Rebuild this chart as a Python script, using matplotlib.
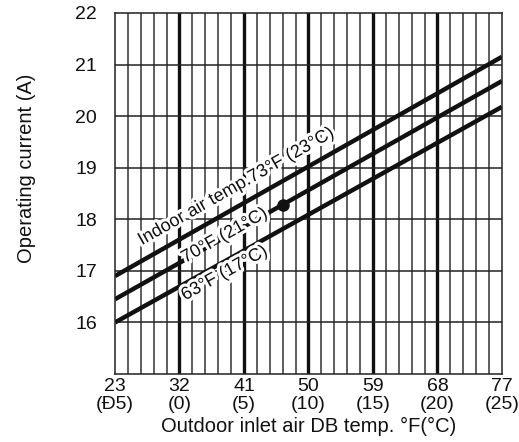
import numpy as np
import matplotlib
matplotlib.use("Agg")
import matplotlib.pyplot as plt
import matplotlib.patheffects as pe

plt.rcParams['font.family'] = ['Liberation Sans', 'DejaVu Sans']

# Data
outdoor_temp_f = [23, 77]
current_73f = [16.9, 21.15]
current_70f = [16.45, 20.68]
current_63f = [16.0, 20.18]
rated_point_x = [46.4]
rated_point_y = [18.28]

xtick_vals = [23, 32, 41, 50, 59, 68, 77]
xtick_labels = ["23\n(Ð5)", "32\n(0)", "41\n(5)", "50\n(10)", "59\n(15)", "68\n(20)", "77\n(25)"]
ytick_vals = [16, 17, 18, 19, 20, 21, 22]

fig = plt.figure(figsize=(5.19, 4.42), dpi=100)
ax = fig.add_axes([0.2216, 0.1538, 0.967 - 0.2216, 0.9706 - 0.1538])
ax.set_xlim(23, 77)
ax.set_ylim(15, 22)

# grid: minor every 1 degC (1.8 degF), major every 5 degC
for i in range(1, 30):
    xv = 23 + 1.8 * i
    if xv >= 77 - 1e-6:
        break
    major = (i % 5 == 0)
    ax.axvline(xv, color='#111111' if major else '#333333',
               lw=2.4 if major else 1.1, zorder=1)
for yv in ytick_vals[:-1]:
    ax.axhline(yv, color='#222222', lw=1.1, zorder=1)

for s in ax.spines.values():
    s.set_linewidth(1.1)
    s.set_color('#222222')

lw = 3.2
ax.plot(outdoor_temp_f, current_73f, color='#111111', lw=lw, solid_capstyle='butt', zorder=2)
ax.plot(outdoor_temp_f, current_70f, color='#111111', lw=lw, solid_capstyle='butt', zorder=2)
ax.plot(outdoor_temp_f, current_63f, color='#111111', lw=lw, solid_capstyle='butt', zorder=2)
ax.plot(rated_point_x, rated_point_y, 'o', color='#111111', ms=8, zorder=3)

def slope_deg(y):
    return np.degrees(np.arctan2(y[1] - y[0], outdoor_temp_f[1] - outdoor_temp_f[0]))

stroke = [pe.withStroke(linewidth=4.5, foreground='white')]
ax.text(39.9, 18.63, "Indoor air temp.73°F (23°C)", rotation=slope_deg(current_73f),
        transform_rotates_text=True, rotation_mode='anchor', ha='center', va='center',
        fontsize=13, color='#111111', path_effects=stroke, zorder=4)
ax.text(38.3, 17.68, "70°F (21°C)", rotation=slope_deg(current_70f),
        transform_rotates_text=True, rotation_mode='anchor', ha='center', va='center',
        fontsize=13, color='#111111', path_effects=stroke, zorder=4)
ax.text(38.3, 16.95, "63°F (17°C)", rotation=slope_deg(current_63f),
        transform_rotates_text=True, rotation_mode='anchor', ha='center', va='center',
        fontsize=13, color='#111111', path_effects=stroke, zorder=4)

ax.set_xticks(xtick_vals)
ax.set_xticklabels(xtick_labels, fontsize=14, linespacing=1.08)
ax.set_yticks(ytick_vals)
ax.set_yticklabels([str(v) for v in ytick_vals], fontsize=14)
ax.tick_params(axis='both', length=0, colors='#111111')
ax.tick_params(axis='y', pad=13)
ax.tick_params(axis='x', pad=3)

ax.set_xlabel("Outdoor inlet air DB temp. °F(°C)", fontsize=14.5, color='#111111', labelpad=3)
ax.set_ylabel("Operating current (A)", fontsize=14.5, color='#111111')
ax.yaxis.set_label_coords(-0.205, 0.57)

fig.savefig("out.png", dpi=100)
